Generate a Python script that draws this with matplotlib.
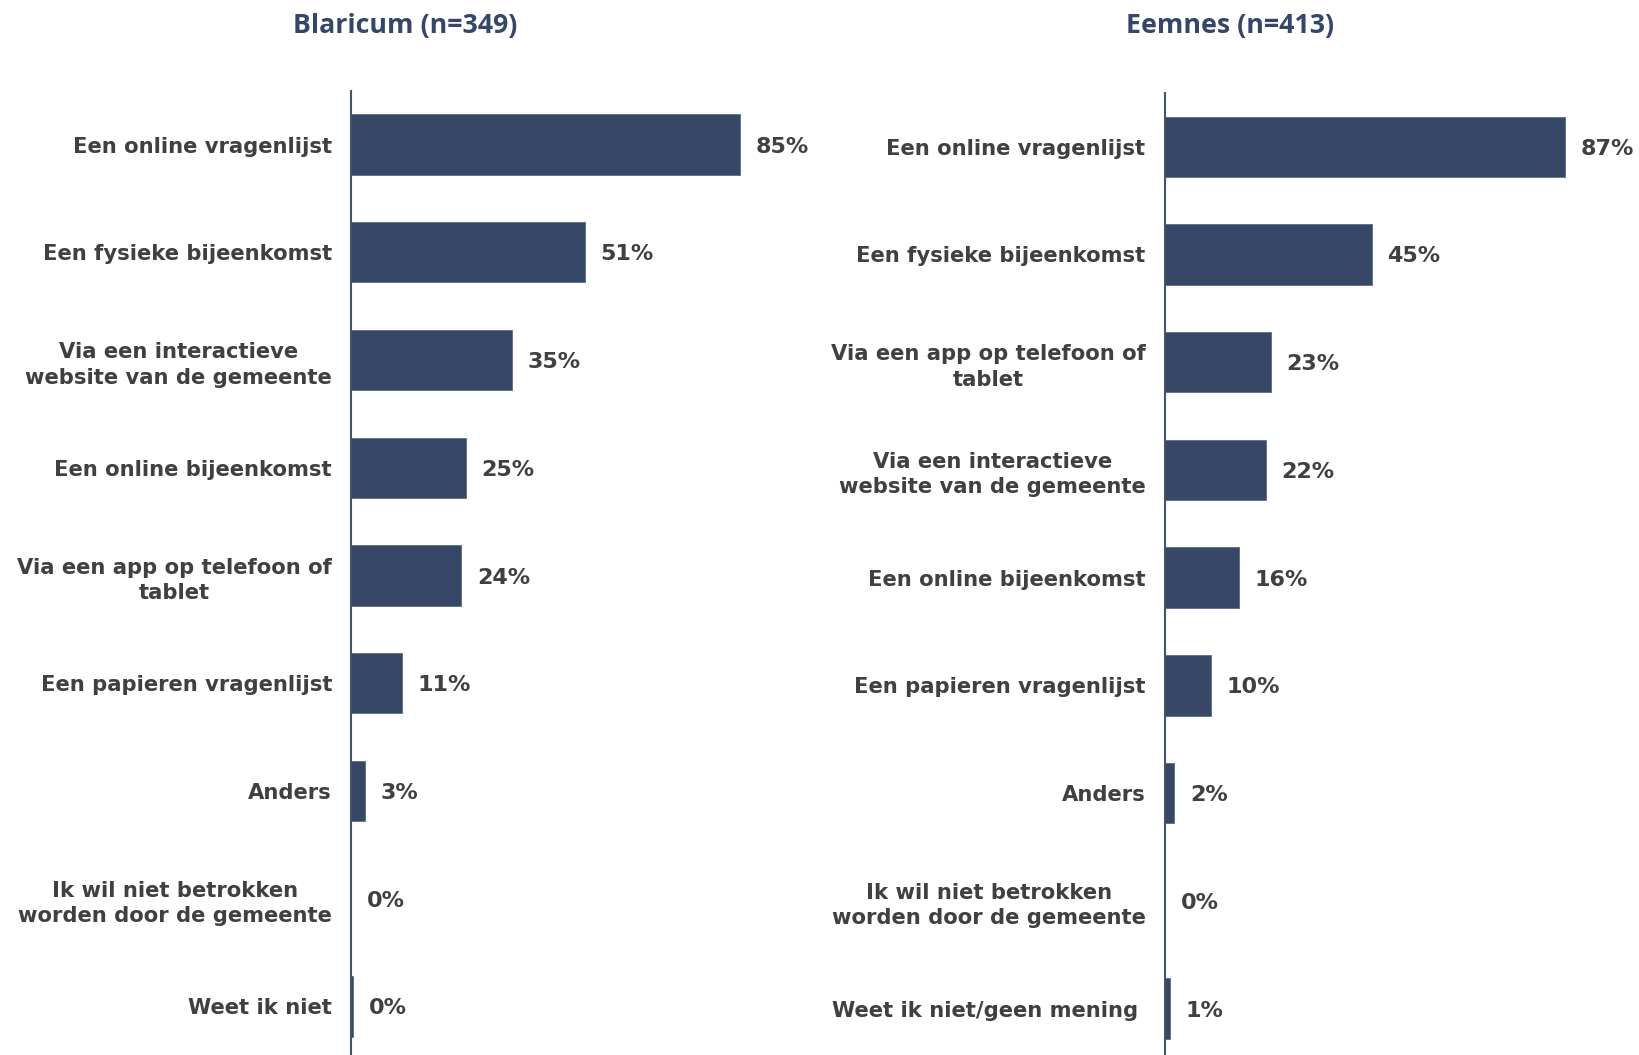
import matplotlib
matplotlib.use('Agg')
import matplotlib.pyplot as plt

# data
blaricum_labels = ['Een online vragenlijst', 'Een fysieke bijeenkomst',
                   'Via een interactieve\nwebsite van de gemeente', 'Een online bijeenkomst',
                   'Via een app op telefoon of\ntablet', 'Een papieren vragenlijst',
                   'Anders', 'Ik wil niet betrokken\nworden door de gemeente', 'Weet ik niet']
blaricum_values = [85, 51, 35, 25, 24, 11, 3, 0, 0.4]
blaricum_texts = ['85%', '51%', '35%', '25%', '24%', '11%', '3%', '0%', '0%']

eemnes_labels = ['Een online vragenlijst', 'Een fysieke bijeenkomst',
                 'Via een app op telefoon of\ntablet', 'Via een interactieve\nwebsite van de gemeente',
                 'Een online bijeenkomst', 'Een papieren vragenlijst', 'Anders',
                 'Ik wil niet betrokken\nworden door de gemeente', 'Weet ik niet/geen mening ']
eemnes_values = [87, 45, 23, 22, 16, 10, 2, 0, 1]
eemnes_texts = ['87%', '45%', '23%', '22%', '16%', '10%', '2%', '0%', '1%']

titles = ['Blaricum (n=349)', 'Eemnes (n=413)']

bar_color = '#374766'
text_color = '#404040'
title_color = '#35466a'

fig = plt.figure(figsize=(16.4, 10.55), dpi=100)

panels = [
    ([0.2143, -0.005, 0.279, 0.919], blaricum_labels, blaricum_values, blaricum_texts, 405),
    ([0.7104, -0.007, 0.280, 0.919], eemnes_labels, eemnes_values, eemnes_texts, 1230),
]

for (rect, labels, values, texts, title_x), title in zip(panels, titles):
    ax = fig.add_axes(rect)
    pos = list(range(len(labels)))
    ax.barh(pos, values, height=0.56, color=bar_color, edgecolor='#5a6a88', linewidth=0.6)
    ax.set_ylim(len(labels) - 0.5, -0.5)
    ax.set_xlim(0, 100)
    ax.set_yticks(pos)
    ax.set_yticklabels(labels, fontsize=15.2, fontweight='bold', color=text_color,
                       multialignment='center', linespacing=1.35)
    ax.tick_params(axis='y', length=0, pad=14)
    ax.set_xticks([])
    for s in ['top', 'right', 'bottom']:
        ax.spines[s].set_visible(False)
    ax.spines['left'].set_color('#44546a')
    ax.spines['left'].set_linewidth(1.5)
    for p, v, t in zip(pos, values, texts):
        ax.text(v + 3.4, p, t, va='center_baseline', ha='left', fontsize=16,
                fontweight='bold', color=text_color)
    fig.text(title_x / 1640, 1 - 26 / 1055, title, ha='center', va='center',
             fontsize=19.3, fontweight='bold', color=title_color, family='Open Sans')

fig.savefig('out.png', dpi=100)
